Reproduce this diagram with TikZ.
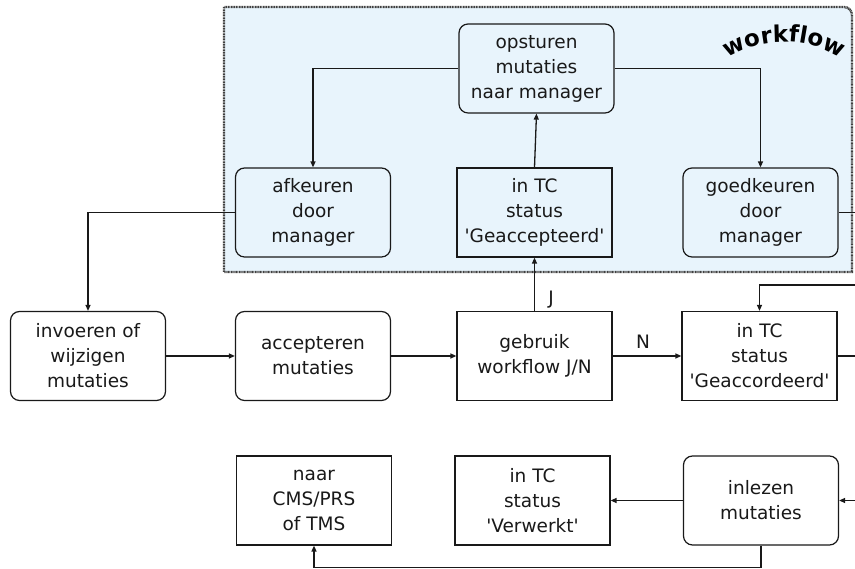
\documentclass[tikz,border=0pt]{standalone}
\usepackage{fontspec}
\setmainfont{DejaVu Sans}
\usetikzlibrary{arrows.meta,decorations.text}
\definecolor{wfbg}{RGB}{232,244,252}
\definecolor{ink}{RGB}{25,25,25}
\newcommand{\sq}{\textquotesingle}
\begin{document}
\begin{tikzpicture}[x=1pt,y=1pt,
  box/.style={draw=ink,line width=1.2pt,minimum width=155pt,minimum height=89pt,inner sep=0pt,align=center,font=\fontsize{18.5}{25}\selectfont,text=ink},
  rbox/.style={box,rounded corners=9pt},
  arr/.style={draw=ink,line width=1.3pt,-{Triangle[length=6pt,width=5pt]}},
  lbl/.style={font=\fontsize{18.5}{22}\selectfont,text=ink,inner sep=0pt},
  wfframe/.style={fill=wfbg,draw=black!75,line width=2.4pt,dash pattern=on 1pt off 0.6pt}]

\useasboundingbox (0,0) rectangle (855,569);
\fill[white] (0,0) rectangle (855,569);

% workflow frame
\path[wfframe] (224,297) -- (224,562) -- (844,562) arc[start angle=90,end angle=0,radius=8] -- (852,297) -- cycle;
\path[decorate,decoration={text along path,text align=center,text={|\fontsize{23}{23}\selectfont\bfseries|workflow}}]
  (784,419) ++(125:108) arc[start angle=125,end angle=55,radius=108];

% nodes
\node[rbox] (ops) at (536.5,500.5) {opsturen\\mutaties\\naar manager};
\node[rbox] (afk) at (313,356.5) {afkeuren\\door\\manager};
\node[box]  (gacc) at (534.5,356.5) {in TC\\status\\\sq Geaccepteerd\sq};
\node[rbox] (goed) at (760.5,356.5) {goedkeuren\\door\\manager};

\node[rbox] (inv) at (88,213) {invoeren of\\wijzigen\\mutaties};
\node[rbox] (acc) at (313,213) {accepteren\\mutaties};
\node[box]  (geb) at (534.5,213) {gebruik\\workflow J/N};
\node[box]  (gacd) at (759.5,213) {in TC\\status\\\sq Geaccordeerd\sq};

\node[box]  (naar) at (314,68.5) {naar\\CMS/PRS\\of TMS};
\node[box]  (verw) at (532.5,68.5) {in TC\\status\\\sq Verwerkt\sq};
\node[rbox] (inl) at (761,68.5) {inlezen\\mutaties};

% helper coordinates
\coordinate (gr) at (872,284);
\coordinate (cr) at (872,68.5);
\coordinate (bl) at (761,1.6);

% connectors
\draw[arr] (afk.west) -| (inv.north);
\draw[arr] (ops.west) -| (afk.north);
\draw[arr] (ops.east) -| (goed.north);
\draw[arr] (gacc.north) -- (ops.south);
\draw[arr] (goed.east) -| (gr) -| (gacd.north);
\draw[arr] (gacd.east) -| (cr) -- (inl.east);
\draw[arr] (inv.east) -- (acc.west);
\draw[arr] (acc.east) -- (geb.west);
\draw[arr] (geb.east) -- (gacd.west);
\draw[arr] (geb.north) -- (gacc.south);
\draw[arr] (inl.west) -- (verw.east);
\draw[arr] (inl.south) -- (bl) -| (naar.south);

% labels
\node[lbl] (lj) at (551,269) {J};
\node[lbl] (ln) at (643,227) {N};
\end{tikzpicture}
\end{document}
